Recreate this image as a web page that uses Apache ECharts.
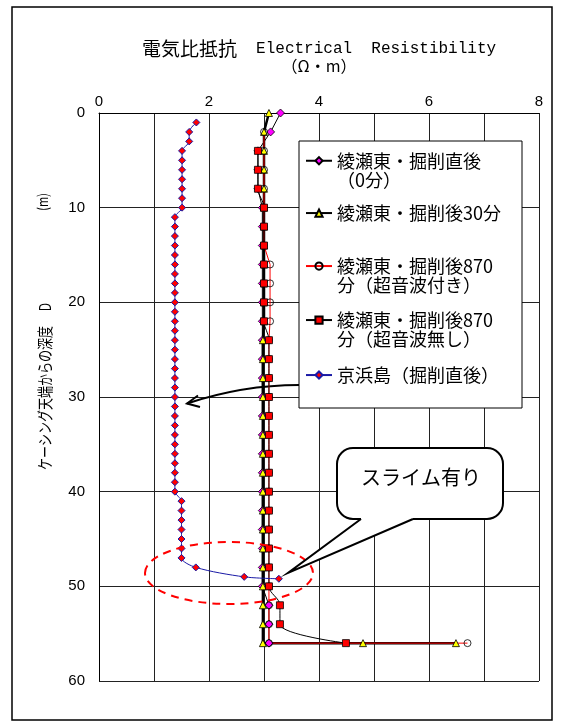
<!DOCTYPE html>
<html>
<head>
<meta charset="utf-8">
<script src="https://cdn.jsdelivr.net/npm/echarts@6/dist/echarts.min.js"></script>
<style>
  html, body { margin: 0; padding: 0; background: #fff; }
  #chart { width: 562px; height: 728px; }
</style>
</head>
<body>
<div id="chart"></div>
<script>
// Resistivity logs: depth below casing top (m) vs. electrical resistivity (Ω·m)
const seriesNames = [
  '綾瀬東・掘削直後\n（0分）',
  '綾瀬東・掘削後30分',
  '綾瀬東・掘削後870\n分（超音波付き）',
  '綾瀬東・掘削後870\n分（超音波無し）',
  '京浜島（掘削直後）'
];

const xTickValues = [0, 2, 4, 6, 8];
const yTickValues = [0, 10, 20, 30, 40, 50, 60];

// 綾瀬東・掘削直後（0分）
const depthAyaseImmediate = [0, 2, 4, 6, 8, 10, 12, 14, 16, 18, 20, 22, 24, 26, 28, 30, 32, 34, 36, 38, 40, 42, 44, 46, 48, 50, 52, 54, 56];
const resAyaseImmediate   = [3.30, 3.12, 2.89, 2.89, 2.89, 2.97, 2.97, 2.97, 2.97, 2.97, 2.97, 2.97, 2.97, 2.97, 2.97, 2.97, 2.97, 2.97, 2.97, 2.97, 2.97, 2.97, 2.97, 2.97, 2.97, 2.97, 3.09, 3.09, 3.09];

// 綾瀬東・掘削後30分
const depthAyase30 = [0, 2, 4, 6, 8, 10, 12, 14, 16, 18, 20, 22, 24, 26, 28, 30, 32, 34, 36, 38, 40, 42, 44, 46, 48, 50, 52, 54, 56, 56, 56];
const resAyase30   = [3.09, 3.00, 3.00, 3.00, 3.00, 3.00, 3.00, 3.00, 3.00, 3.00, 3.00, 3.00, 2.98, 2.98, 2.98, 2.98, 2.98, 2.98, 2.98, 2.98, 2.98, 2.98, 2.98, 2.98, 2.98, 2.98, 2.98, 2.98, 2.98, 4.80, 6.49];

// 綾瀬東・掘削後870分（超音波付き）
const depthAyase870With = [2, 4, 6, 8, 10, 12, 14, 16, 18, 20, 22, 24, 26, 28, 30, 32, 34, 36, 38, 40, 42, 44, 46, 48, 50, 52, 54, 56, 56];
const resAyase870With   = [3.00, 3.00, 3.00, 3.00, 3.00, 3.00, 3.00, 3.11, 3.11, 3.11, 3.11, 3.09, 3.09, 3.09, 3.09, 3.09, 3.09, 3.09, 3.09, 3.09, 3.09, 3.09, 3.09, 3.09, 3.09, 3.09, 3.09, 3.09, 6.70];

// 綾瀬東・掘削後870分（超音波無し）
const depthAyase870Without = [4, 6, 8, 10, 12, 14, 16, 18, 20, 22, 24, 26, 28, 30, 32, 34, 36, 38, 40, 42, 44, 46, 48, 50, 52, 54, 56];
const resAyase870Without   = [2.89, 2.89, 2.89, 3.00, 3.00, 3.00, 3.00, 3.00, 3.00, 3.00, 3.09, 3.09, 3.09, 3.09, 3.09, 3.09, 3.09, 3.09, 3.09, 3.09, 3.09, 3.09, 3.09, 3.09, 3.29, 3.29, 4.49];

// 京浜島（掘削直後）
const depthKeihinjima = [1, 2, 3, 4, 5, 6, 7, 8, 9, 10, 11, 12, 13, 14, 15, 16, 17, 18, 19, 20, 21, 22, 23, 24, 25, 26, 27, 28, 29, 30, 31, 32, 33, 34, 35, 36, 37, 38, 39, 40, 41, 42, 43, 44, 45, 46, 47, 48, 49, 49.2];
const resKeihinjima   = [1.77, 1.64, 1.64, 1.51, 1.51, 1.51, 1.51, 1.51, 1.51, 1.51, 1.38, 1.38, 1.38, 1.38, 1.38, 1.38, 1.38, 1.38, 1.38, 1.38, 1.38, 1.38, 1.38, 1.38, 1.38, 1.38, 1.38, 1.38, 1.38, 1.38, 1.38, 1.38, 1.38, 1.38, 1.38, 1.38, 1.38, 1.38, 1.38, 1.38, 1.50, 1.50, 1.50, 1.50, 1.50, 1.50, 1.50, 1.76, 2.64, 3.27];

const CJK = '"Noto Sans CJK JP", sans-serif';
const NUM = '"Liberation Sans", Arial, sans-serif';
const MONO = '"Liberation Mono", "DejaVu Sans Mono", monospace';

function pairs(values, depths) {
  return depths.map((d, i) => [values[i], d]);
}

const chart = echarts.init(document.getElementById('chart'), null, { renderer: 'canvas' });

// One legend block per entry; two-line entries get a blank leading line so the
// icon lines up with the first line of the label.
function legendFor(name, top, twoLines) {
  return {
    data: [name],
    orient: 'vertical',
    left: 305,
    top: top,
    padding: 0,
    itemGap: 0,
    itemWidth: 26,
    itemHeight: 9,
    selectedMode: false,
    formatter: twoLines ? (n => '\n' + n) : (n => n),
    textStyle: {
      fontFamily: CJK,
      fontSize: 18,
      color: '#000',
      lineHeight: 19.5
    }
  };
}

// vertical (rotated) caption piece for the depth axis
function depthCaption(text, x, y, align, size) {
  return {
    type: 'text', z: 5, silent: true,
    x: x, y: y, rotation: Math.PI / 2, scaleY: 1.3,
    style: {
      text: text,
      fontFamily: CJK, fontSize: size, fill: '#000',
      align: align, verticalAlign: 'middle'
    }
  };
}

const option = {
  animation: false,
  backgroundColor: '#fff',
  grid: { left: 99, right: 23, top: 113, bottom: 47, containLabel: false },
  xAxis: {
    type: 'value',
    position: 'top',
    min: 0,
    max: 8,
    interval: 1,
    axisLine: { show: true, lineStyle: { color: '#000', width: 1 } },
    axisTick: { show: false },
    axisLabel: {
      margin: 4,
      fontFamily: NUM,
      fontSize: 15,
      color: '#000',
      formatter: v => (xTickValues.indexOf(v) >= 0 ? String(v) : '')
    },
    splitLine: { show: true, lineStyle: { color: '#222', width: 1 } }
  },
  yAxis: {
    type: 'value',
    inverse: true,
    min: 0,
    max: 60,
    interval: 10,
    axisLine: { show: true, lineStyle: { color: '#000', width: 1 } },
    axisTick: { show: false },
    axisLabel: {
      margin: 14,
      fontFamily: NUM,
      fontSize: 15,
      color: '#000',
      formatter: v => (yTickValues.indexOf(v) >= 0 ? String(v) : '')
    },
    splitLine: { show: true, lineStyle: { color: '#222', width: 1 } }
  },
  legend: [
    legendFor(seriesNames[0], 131.5, true),
    legendFor(seriesNames[1], 203.3, false),
    legendFor(seriesNames[2], 236.8, true),
    legendFor(seriesNames[3], 290.8, true),
    legendFor(seriesNames[4], 365.3, false)
  ],
  series: [
    {
      name: seriesNames[0],
      type: 'line',
      data: pairs(resAyaseImmediate, depthAyaseImmediate),
      symbol: 'diamond',
      symbolSize: 8,
      itemStyle: { color: '#ff00ff', borderColor: '#000', borderWidth: 0.8 },
      lineStyle: { color: '#000', width: 1 }
    },
    {
      name: seriesNames[1],
      type: 'line',
      data: pairs(resAyase30, depthAyase30),
      symbol: 'triangle',
      symbolSize: 7,
      itemStyle: { color: '#ffff00', borderColor: '#000', borderWidth: 0.8 },
      lineStyle: { color: '#000', width: 2.5 }
    },
    {
      name: seriesNames[2],
      type: 'line',
      data: pairs(resAyase870With, depthAyase870With),
      symbol: 'circle',
      symbolSize: 7,
      itemStyle: { color: 'rgba(255,255,255,0)', borderColor: '#000', borderWidth: 0.8 },
      lineStyle: { color: '#ff0000', width: 1 }
    },
    {
      name: seriesNames[3],
      type: 'line',
      data: pairs(resAyase870Without, depthAyase870Without),
      symbol: 'rect',
      symbolSize: 7,
      smooth: 0.35,
      itemStyle: { color: '#ff0000', borderColor: '#000', borderWidth: 0.8 },
      lineStyle: { color: '#000', width: 1 }
    },
    {
      name: seriesNames[4],
      type: 'line',
      data: pairs(resKeihinjima, depthKeihinjima),
      symbol: 'diamond',
      symbolSize: 7,
      smooth: 0.3,
      itemStyle: { color: '#ff0000', borderColor: '#1a1aa6', borderWidth: 1 },
      lineStyle: { color: '#1a1aa6', width: 1 }
    }
  ],
  graphic: [
    // outer frame
    {
      type: 'rect', z: 0, silent: true,
      shape: { x: 12, y: 7, width: 540, height: 713 },
      style: { fill: 'none', stroke: '#000', lineWidth: 1.5 }
    },
    // axis title
    {
      type: 'text', z: 5, silent: true,
      x: 319, y: 49,
      style: {
        text: '{c|電気比抵抗}{e|  Electrical  Resistibility}',
        align: 'center', verticalAlign: 'middle',
        rich: {
          c: { fontFamily: CJK, fontSize: 19, fill: '#000' },
          e: { fontFamily: MONO, fontSize: 16, fill: '#000' }
        }
      }
    },
    {
      type: 'text', z: 5, silent: true,
      x: 319, y: 66,
      style: {
        text: '（Ω・m）',
        fontFamily: CJK, fontSize: 16, fill: '#000',
        align: 'center', verticalAlign: 'middle'
      }
    },
    // depth axis name
    depthCaption('ケーシング天端からの深度', 45, 470, 'left', 12),
    depthCaption('D', 45, 307, 'center', 12),
    depthCaption('(m)', 43, 202, 'center', 11),
    // pointer from the 京浜島 entry to its log
    {
      type: 'bezierCurve', z: 2.5, silent: true,
      shape: { x1: 305, y1: 385, cpx1: 245, cpy1: 384, x2: 187, y2: 403.5 },
      style: { stroke: '#000', lineWidth: 2, fill: 'none' }
    },
    {
      type: 'polyline', z: 2.5, silent: true,
      shape: { points: [[198, 395.5], [187, 403.5], [200, 407]] },
      style: { stroke: '#000', lineWidth: 2, fill: 'none' }
    },
    // legend panel
    {
      type: 'rect', z: 3, silent: true,
      shape: { x: 299, y: 141, width: 223, height: 267 },
      style: { fill: '#fff', stroke: '#000', lineWidth: 1 }
    },
    // slime zone marker
    {
      type: 'ellipse', z: 5, silent: true,
      shape: { cx: 229, cy: 573, rx: 84, ry: 31 },
      style: { fill: 'none', stroke: '#ff0000', lineWidth: 2, lineDash: [8, 6] }
    },
    // callout body
    {
      type: 'rect', z: 6, silent: true,
      shape: { x: 337, y: 448, width: 166, height: 71, r: 16 },
      style: { fill: '#fff', stroke: '#000', lineWidth: 2 }
    },
    // callout pointer
    {
      type: 'polygon', z: 6.1, silent: true,
      shape: { points: [[361, 517], [361, 519], [288, 573], [413, 519], [413, 517]] },
      style: { fill: '#fff', stroke: 'none' }
    },
    {
      type: 'polyline', z: 6.2, silent: true,
      shape: { points: [[361, 519], [288, 573], [413, 519]] },
      style: { stroke: '#000', lineWidth: 2, fill: 'none' }
    },
    {
      type: 'text', z: 7, silent: true,
      x: 421, y: 477,
      style: {
        text: 'スライム有り',
        fontFamily: CJK, fontSize: 20, fill: '#000',
        align: 'center', verticalAlign: 'middle'
      }
    }
  ]
};

chart.setOption(option);
</script>
</body>
</html>
